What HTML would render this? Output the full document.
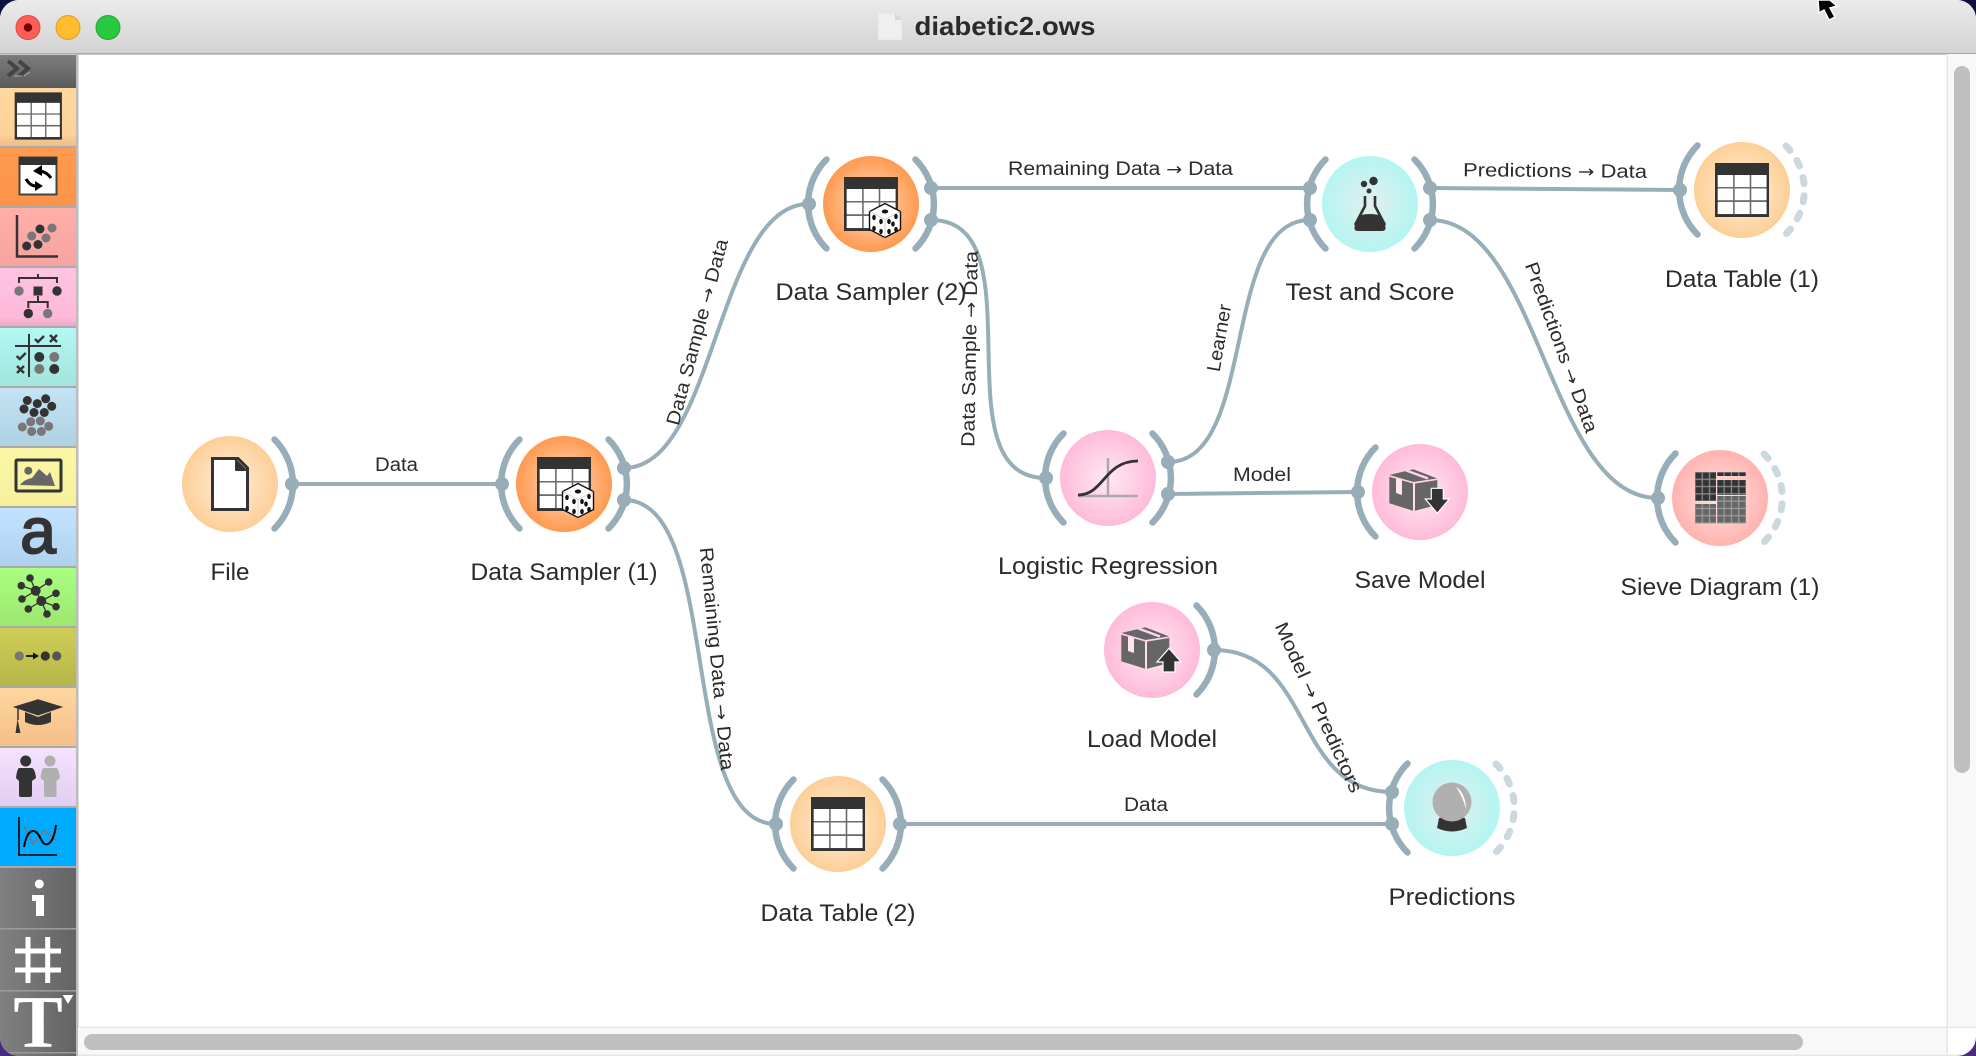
<!DOCTYPE html>
<html><head><meta charset="utf-8"><title>diabetic2.ows</title>
<style>
html,body{margin:0;padding:0;background:#fff;width:1976px;height:1056px;overflow:hidden}
svg{display:block}
text{font-family:"Liberation Sans",sans-serif;fill:#2b2b2b}
.cap{font-size:24px;text-anchor:middle}
.lnk{font-size:19px;text-anchor:middle}
.ar{font-family:"DejaVu Sans",sans-serif;font-size:17px}
.l{fill:none;stroke:#97aeb8;stroke-width:4}
.arc{fill:none;stroke:#97aeb8;stroke-width:6.5;stroke-linecap:round}
.port{fill:#97aeb8}
.dash{fill:none;stroke:#cdd8de;stroke-width:7;stroke-linecap:round;stroke-dasharray:6 12.2}
</style></head><body>
<svg width="1976" height="1056" viewBox="0 0 1976 1056" xmlns="http://www.w3.org/2000/svg">
<defs>
<linearGradient id="tb" x1="0" y1="0" x2="0" y2="1"><stop offset="0" stop-color="#ebebeb"/><stop offset="1" stop-color="#d3d3d3"/></linearGradient>
<linearGradient id="hd" x1="0" y1="0" x2="0" y2="1"><stop offset="0" stop-color="#7c7c7c"/><stop offset="1" stop-color="#5c5c5c"/></linearGradient>
<linearGradient id="gr" x1="0" y1="0" x2="1" y2="0"><stop offset="0" stop-color="#808080"/><stop offset="1" stop-color="#646464"/></linearGradient>
<linearGradient id="s1" x1="0" y1="0" x2="0" y2="1"><stop offset="0" stop-color="#ffd89e"/><stop offset=".8" stop-color="#fdd298"/><stop offset="1" stop-color="#efbd8a"/></linearGradient>
<linearGradient id="s2" x1="0" y1="0" x2="0" y2="1"><stop offset="0" stop-color="#ff9a4e"/><stop offset="1" stop-color="#fb9448"/></linearGradient>
<linearGradient id="s3" x1="0" y1="0" x2="0" y2="1"><stop offset="0" stop-color="#ffaeaa"/><stop offset="1" stop-color="#f7a4a0"/></linearGradient>
<linearGradient id="s4" x1="0" y1="0" x2="0" y2="1"><stop offset="0" stop-color="#ffc3e2"/><stop offset=".85" stop-color="#ffb9d9"/><stop offset="1" stop-color="#eaa8c8"/></linearGradient>
<linearGradient id="s5" x1="0" y1="0" x2="0" y2="1"><stop offset="0" stop-color="#b4f8f3"/><stop offset="1" stop-color="#a2e4de"/></linearGradient>
<linearGradient id="s6" x1="0" y1="0" x2="0" y2="1"><stop offset="0" stop-color="#c4e3f5"/><stop offset="1" stop-color="#aed2e2"/></linearGradient>
<linearGradient id="s7" x1="0" y1="0" x2="0" y2="1"><stop offset="0" stop-color="#fbf7a6"/><stop offset="1" stop-color="#f5f09c"/></linearGradient>
<linearGradient id="s8" x1="0" y1="0" x2="0" y2="1"><stop offset="0" stop-color="#c4e2ff"/><stop offset="1" stop-color="#aed2ef"/></linearGradient>
<linearGradient id="s9" x1="0" y1="0" x2="0" y2="1"><stop offset="0" stop-color="#a8ff80"/><stop offset="1" stop-color="#9ee670"/></linearGradient>
<linearGradient id="s10" x1="0" y1="0" x2="0" y2="1"><stop offset="0" stop-color="#cece55"/><stop offset="1" stop-color="#b6b64a"/></linearGradient>
<linearGradient id="s11" x1="0" y1="0" x2="0" y2="1"><stop offset="0" stop-color="#ffd6a0"/><stop offset="1" stop-color="#f5bf88"/></linearGradient>
<linearGradient id="s12" x1="0" y1="0" x2="0" y2="1"><stop offset="0" stop-color="#f4e2ff"/><stop offset="1" stop-color="#e2cef0"/></linearGradient>
<radialGradient id="nData"><stop offset="0" stop-color="#ffeedd"/><stop offset="1" stop-color="#fdcf97"/></radialGradient>
<radialGradient id="nTrans"><stop offset="0" stop-color="#ffdcc0"/><stop offset="1" stop-color="#ff9a50"/></radialGradient>
<radialGradient id="nModel"><stop offset="0" stop-color="#ffe9f3"/><stop offset="1" stop-color="#ffbbd9"/></radialGradient>
<radialGradient id="nEval"><stop offset="0" stop-color="#e2efee"/><stop offset="1" stop-color="#b4f5f1"/></radialGradient>
<radialGradient id="nVis"><stop offset="0" stop-color="#ffe6e6"/><stop offset="1" stop-color="#ffb2ae"/></radialGradient>
<pattern id="pDark" x="1695" y="472" width="7.3" height="7.3" patternUnits="userSpaceOnUse"><rect width="7.3" height="7.3" fill="#8a8a8a"/><rect x=".6" y=".6" width="6" height="6" fill="#333"/></pattern>
<pattern id="pGray" x="1695" y="472" width="7.3" height="7.3" patternUnits="userSpaceOnUse"><rect width="7.3" height="7.3" fill="#999"/><rect x=".6" y=".6" width="6" height="6" fill="#666"/></pattern>
<g id="table">
<rect x="-27" y="-27" width="54" height="54" fill="#333"/>
<rect x="-24.3" y="-15" width="48.8" height="39.2" fill="#6f6a68"/>
<rect x="-24.3" y="-15" width="15.4" height="12" fill="#fff"/><rect x="-7.3" y="-15" width="15" height="12" fill="#fff"/><rect x="9.3" y="-15" width="15.3" height="12" fill="#fff"/>
<rect x="-24.3" y="-1.5" width="15.4" height="11.7" fill="#fff"/><rect x="-7.3" y="-1.5" width="15" height="11.7" fill="#fff"/><rect x="9.3" y="-1.5" width="15.3" height="11.7" fill="#fff"/>
<rect x="-24.3" y="12" width="15.4" height="12" fill="#fff"/><rect x="-7.3" y="12" width="15" height="12" fill="#fff"/><rect x="9.3" y="12" width="15.3" height="12" fill="#fff"/>
</g>
<g id="dice">
<polygon points="0,-17 15.5,-9 15.5,9 0,17 -15.5,9 -15.5,-9" fill="#fff" stroke="#111" stroke-width="1.4"/>
<path d="M-15.5,-9 L0,-1 L15.5,-9 M0,-1 L0,17" fill="none" stroke="#bbb" stroke-width=".7"/>
<g fill="#111"><ellipse cx="0" cy="-9" rx="3.2" ry="2"/><ellipse cx="-11" cy="-3" rx="1.8" ry="2.6"/><ellipse cx="-4" cy="1" rx="1.8" ry="2.6"/><ellipse cx="-11" cy="8" rx="1.8" ry="2.6"/><ellipse cx="-4" cy="11" rx="1.8" ry="2.6"/><ellipse cx="11" cy="-4" rx="1.8" ry="2.6"/><ellipse cx="4" cy="1" rx="1.8" ry="2.6"/><ellipse cx="8" cy="3.500" rx="1.8" ry="2.6"/><ellipse cx="11" cy="9" rx="1.8" ry="2.6"/><ellipse cx="4" cy="11" rx="1.8" ry="2.6"/></g>
</g>
<g id="box">
<polygon points="-30.7,-16 -7,-9 -7,18.7 -30.7,11.3" fill="#666"/>
<polygon points="-30.7,-17 -6.7,-22.7 17.3,-13.5 -6.7,-10" fill="#666"/>
<polygon points="-5,-8.7 17.3,-12.7 17.3,13 -5,18.7" fill="#666"/>
<path d="M-15,-22 L8,-13.500" stroke="#ffd4e6" stroke-width="2.500" fill="none"/>
<path d="M-30.700,-16 L-6,-9 L17.300,-12.700" stroke="#ffd4e6" stroke-width="1.500" fill="none"/>
<polygon points="-24,-13.500 -18,-12 -18,3 -24,1" fill="#ffe3ef"/>
</g>
<path id="arcR" class="arc" d="M44.5,-44.5 A63 63 0 0 1 44.5,44.5"/>
<path id="arcL" class="arc" d="M-44.5,-44.5 A63 63 0 0 0 -44.5,44.5"/>
<path id="arcD" class="dash" d="M44,-44 A62 62 0 0 1 44,44"/>
</defs>

<rect width="1976" height="528" fill="#10103f"/>
<rect y="528" width="1976" height="528" fill="#4a2a7a"/>
<clipPath id="win"><rect width="1976" height="1056" rx="19" ry="19"/></clipPath>
<g clip-path="url(#win)">
<rect width="1976" height="1056" fill="#fff"/>
<!-- title -->
<rect width="1976" height="53" fill="url(#tb)"/>
<rect y="53" width="1976" height="1.6" fill="#a9a9a9"/>
<circle cx="28" cy="27.5" r="12" fill="#ff5f57" stroke="#e0443e"/><circle cx="28" cy="27.5" r="4.2" fill="#7a0000"/>
<circle cx="68" cy="27.5" r="12" fill="#febc2e" stroke="#dfa023"/>
<circle cx="108" cy="27.5" r="12" fill="#28c840" stroke="#1fa82f"/>
<path d="M878,13 H895 L902,20 V39 Q902,40 901,40 H879 Q878,40 878,39 Z" fill="#efefef" stroke="#e2e2e2" stroke-width=".7"/>
<path d="M895,13 V20 H902 Z" fill="#d9d9d9"/>
<text x="1005" y="35" font-size="26" font-weight="700" text-anchor="middle" textLength="181" lengthAdjust="spacingAndGlyphs" style="fill:#2a2a2a">diabetic2.ows</text>
<path d="M1818,0 L1819,13 L1824,10 L1829,20 L1835,17 L1830,8 L1837,6 L1830,0 Z" fill="#000" stroke="#fff" stroke-width="1.5"/>

<!-- sidebar -->
<rect x="76" y="54" width="2.5" height="1002" fill="#bdbdbd"/>
<rect x="0" y="55" width="76" height="33" fill="url(#hd)"/>
<path d="M8,61 L17,68.500 L8,76 M19,61 L28,68.500 L19,76" fill="none" stroke="#444" stroke-width="4"/>
<path d="M14,76 L22,76 M24,76 L30,72" fill="none" stroke="#aaa" stroke-width="1"/>
<rect y="88" width="76" height="58" fill="url(#s1)"/><rect y="146" width="76" height="2" fill="#aaa"/>
<rect y="148" width="76" height="58" fill="url(#s2)"/><rect y="206" width="76" height="2" fill="#aaa"/>
<rect y="208" width="76" height="58" fill="url(#s3)"/><rect y="266" width="76" height="2" fill="#aaa"/>
<rect y="268" width="76" height="58" fill="url(#s4)"/><rect y="326" width="76" height="2" fill="#aaa"/>
<rect y="328" width="76" height="58" fill="url(#s5)"/><rect y="386" width="76" height="2" fill="#aaa"/>
<rect y="388" width="76" height="58" fill="url(#s6)"/><rect y="446" width="76" height="2" fill="#aaa"/>
<rect y="448" width="76" height="58" fill="url(#s7)"/><rect y="506" width="76" height="2" fill="#aaa"/>
<rect y="508" width="76" height="58" fill="url(#s8)"/><rect y="566" width="76" height="2" fill="#aaa"/>
<rect y="568" width="76" height="58" fill="url(#s9)"/><rect y="626" width="76" height="2" fill="#aaa"/>
<rect y="628" width="76" height="58" fill="url(#s10)"/><rect y="686" width="76" height="2" fill="#aaa"/>
<rect y="688" width="76" height="58" fill="url(#s11)"/><rect y="746" width="76" height="2" fill="#aaa"/>
<rect y="748" width="76" height="58" fill="url(#s12)"/><rect y="806" width="76" height="2" fill="#aaa"/>
<rect y="808" width="76" height="58" fill="#00aaff"/><rect y="866" width="76" height="2" fill="#aaa"/>
<rect y="868" width="76" height="188" fill="url(#gr)"/>
<rect y="928" width="76" height="1.6" fill="#9a9a9a"/><rect y="990" width="76" height="1.6" fill="#9a9a9a"/><rect y="1052" width="76" height="1.5" fill="#9a9a9a"/>

<use href="#table" transform="translate(38.3,116) scale(.875)"/>
<!-- transform -->
<rect x="19.5" y="157.5" width="37" height="37" fill="#fff" stroke="#444" stroke-width="2"/><rect x="19" y="157" width="38" height="8" fill="#333"/>
<path d="M51,178 Q47,172 40,171" fill="none" stroke="#000" stroke-width="3"/><polygon points="42,165 33,171 42,176" fill="#000"/>
<path d="M26,179 Q30,186 36,186" fill="none" stroke="#000" stroke-width="3"/><polygon points="35,181 43,186 35,191" fill="#000"/>
<!-- scatter -->
<path d="M17,215 V256.5 H58" fill="none" stroke="#333" stroke-width="2.5"/>
<g fill="#333"><circle cx="40" cy="229" r="4.5"/><circle cx="26.7" cy="246" r="4.5"/><circle cx="38" cy="244.5" r="4.5"/></g>
<g fill="#777"><circle cx="52" cy="228" r="4.5"/><circle cx="31.7" cy="236" r="4.5"/><circle cx="46" cy="238" r="4.5"/></g>
<!-- tree -->
<path d="M38,274 V278 M19,283 V278 H57 V283 M38,296 V302 M28.3,308 V302 H47.7 V308" fill="none" stroke="#333" stroke-width="2"/>
<rect x="33.5" y="286.5" width="9" height="9" fill="#333"/>
<circle cx="19" cy="291" r="4.7" fill="#777"/><circle cx="57" cy="291" r="4.7" fill="#333"/><circle cx="28.3" cy="313.5" r="4.7" fill="#333"/><circle cx="47.7" cy="313.5" r="4.7" fill="#777"/>
<!-- evaluate -->
<path d="M29,334 V377 M15,346 H61" stroke="#333" stroke-width="2" fill="none"/>
<path d="M35,339 L38,342 L44,336 M16.700,356 L19.700,359 L25.700,353 M50,335 L57,342 M57,335 L50,342 M17,366 L24,373 M24,366 L17,373" stroke="#333" stroke-width="2.4" fill="none"/>
<circle cx="39.300" cy="357" r="5" fill="#333"/><circle cx="54.300" cy="357" r="5" fill="#777"/><circle cx="39.300" cy="369" r="5" fill="#777"/><circle cx="54.300" cy="369" r="5" fill="#333"/>
<!-- unsupervised -->
<g fill="#333"><circle cx="27.300" cy="400.500" r="4.500"/><circle cx="45.700" cy="398.800" r="4.500"/><circle cx="37.300" cy="403.600" r="4.500"/><circle cx="51.700" cy="406.300" r="4.500"/><circle cx="24" cy="409" r="4.500"/><circle cx="44.300" cy="412.500" r="4.500"/><circle cx="34" cy="412.500" r="4.500"/></g>
<g fill="#777"><circle cx="30.700" cy="421.800" r="4.500"/><circle cx="40.300" cy="421" r="4.500"/><circle cx="22.300" cy="427" r="4.500"/><circle cx="48.700" cy="426.300" r="4.500"/><circle cx="31.700" cy="431.500" r="4.500"/><circle cx="41.300" cy="431.500" r="4.500"/></g>
<!-- image -->
<rect x="16" y="460" width="45" height="31" fill="none" stroke="#333" stroke-width="3" rx="1"/>
<circle cx="28.300" cy="470.700" r="4" fill="#666"/>
<path d="M20,485 Q25,479 32,478 L39,469 L47,476 L50,472 L55,486 Z" fill="#666"/>
<!-- text -->
<text x="38" y="553" font-size="64" text-anchor="middle" style="fill:#333;stroke:#333;stroke-width:2">a</text>
<!-- network -->
<path d="M35.700,590.700 L30,578 M35.700,590.700 L48.700,582 M35.700,590.700 L21.300,585.700 M35.700,590.700 L41.300,601 M35.700,590.700 L22,599 M41.300,601 L56,593.300 M41.300,601 L56,606.700 M41.300,601 L28.300,609 M41.300,601 L47,614" stroke="#333" stroke-width="1.300"/>
<g fill="#333"><circle cx="35.700" cy="590.700" r="5"/><circle cx="41.300" cy="601" r="5"/><circle cx="30" cy="578" r="3.800"/><circle cx="48.700" cy="582" r="3.800"/><circle cx="21.300" cy="585.700" r="3.800"/><circle cx="56" cy="593.300" r="3.800"/><circle cx="22" cy="599" r="3.800"/><circle cx="56" cy="606.700" r="3.800"/><circle cx="28.300" cy="609" r="3.800"/><circle cx="47" cy="614" r="3.800"/></g>
<!-- time -->
<circle cx="19.300" cy="656" r="4.600" fill="#777"/><circle cx="45.300" cy="656" r="4.600" fill="#333"/><circle cx="56.700" cy="656" r="4.600" fill="#555"/>
<path d="M26,656 H34" stroke="#111" stroke-width="1.800"/><polygon points="33,652.500 39,656 33,659.500" fill="#111"/>
<!-- education -->
<path d="M25,712 V722 Q38,728 51,722 V712 L38,717 Z" fill="#333"/>
<polygon points="38,699.300 63.300,707 38,715.500 12.700,707" fill="#333"/>
<path d="M18,708 V720" stroke="#333" stroke-width="1.500"/><path d="M17.500,719 L20.500,733 H15.500 Z" fill="#333"/>
<!-- people -->
<circle cx="25.700" cy="761" r="5.500" fill="#333"/><path d="M19,768 H32 Q35,769 36,778 L32,781 V795 Q32,797 30,797 H21 Q19,797 19,795 V781 L16,778 Q17,769 19,768 Z" fill="#333"/>
<circle cx="50" cy="761" r="5.500" fill="#b0b0b0"/><path d="M43.500,768 H56.500 Q59,769 60,778 L56.500,781 V795 Q56.500,797 55,797 H46 Q44,797 44,795 V781 L40.500,778 Q41.500,769 43.500,768 Z" fill="#b0b0b0"/>
<!-- chart -->
<path d="M19,817 V855 H57" fill="none" stroke="#111" stroke-width="1.800"/>
<path d="M24,826 L33,844 L44,830 L56,840" fill="none" stroke="#777" stroke-width="1.500"/>
<path d="M24,847 Q27,830 34,831 C41,833 41,847 48,844 Q54,841 56,825" fill="none" stroke="#000" stroke-width="2"/>
<!-- i # T -->
<circle cx="39.300" cy="884" r="4.500" fill="#fff"/><polygon points="32,895 44,895 44,916 36,916 36,901 32,901" fill="#fff"/>
<path d="M28,937 V983 M47.700,937 V983 M15,951 H61 M15,970 H61" stroke="#fff" stroke-width="5" fill="none"/>
<text x="38" y="1047" font-size="74" font-weight="700" text-anchor="middle" style="font-family:'Liberation Serif',serif;fill:#fff">T</text>
<polygon points="62.700,995 73.300,995 68,1004" fill="#fff"/>

<!-- scrollbars -->
<rect x="1947" y="54" width="29" height="973" fill="#f8f8f8"/><rect x="1946.500" y="54" width="1.500" height="973" fill="#e6e6e6"/>
<rect x="1954" y="66" width="16" height="707" rx="8" fill="#bfbfbf"/>
<rect x="78" y="1027" width="1869" height="29" fill="#f8f8f8"/><rect x="78" y="1026.500" width="1898" height="1.500" fill="#e6e6e6"/>
<rect x="84" y="1034" width="1719" height="16" rx="8" fill="#bfbfbf"/>
<rect x="1946.500" y="1027" width="1.500" height="29" fill="#e6e6e6"/>
<rect x="78" y="1054.500" width="1898" height="1.500" fill="#e6e6e6"/>

<!-- links -->
<path class="l" d="M292,484 H502"/>
<path class="l" d="M624,468 C716,468 716,204 809,204"/>
<path class="l" d="M624,500 C724,500 676,824 776,824"/>
<path class="l" d="M931,188 H1310"/>
<path class="l" d="M931,220 C1041,220 936,478 1046,478"/>
<path class="l" d="M1168,462 C1258,462 1220,220 1310,220"/>
<path class="l" d="M1168,494 L1358,492"/>
<path class="l" d="M1430,188 L1680,190"/>
<path class="l" d="M1430,220 C1540,220 1548,498 1658,498"/>
<path class="l" d="M1214,650 C1314,650 1292,792 1392,792"/>
<path class="l" d="M900,824 H1392"/>

<!-- link labels -->
<text class="lnk" x="396.500" y="471" textLength="43" lengthAdjust="spacingAndGlyphs">Data</text>
<text class="lnk" x="1120.500" y="175" textLength="225" lengthAdjust="spacingAndGlyphs">Remaining Data <tspan class="ar">→</tspan> Data</text>
<text class="lnk" transform="translate(1555,177) rotate(.5)" textLength="184" lengthAdjust="spacingAndGlyphs">Predictions <tspan class="ar">→</tspan> Data</text>
<text class="lnk" x="1262" y="481" textLength="58" lengthAdjust="spacingAndGlyphs">Model</text>
<text class="lnk" x="1146" y="811" textLength="44" lengthAdjust="spacingAndGlyphs">Data</text>
<text class="lnk" transform="translate(703.300,333.700) rotate(-75)" textLength="192" lengthAdjust="spacingAndGlyphs">Data Sample <tspan class="ar">→</tspan> Data</text>
<text class="lnk" transform="translate(710.500,659.400) rotate(84.500)" textLength="224" lengthAdjust="spacingAndGlyphs">Remaining Data <tspan class="ar">→</tspan> Data</text>
<text class="lnk" transform="translate(976,349) rotate(-89)" textLength="196" lengthAdjust="spacingAndGlyphs">Data Sample <tspan class="ar">→</tspan> Data</text>
<text class="lnk" transform="translate(1225.400,339) rotate(-80)" textLength="68" lengthAdjust="spacingAndGlyphs">Learner</text>
<text class="lnk" transform="translate(1555.400,349.400) rotate(70)" textLength="180" lengthAdjust="spacingAndGlyphs">Predictions <tspan class="ar">→</tspan> Data</text>
<text class="lnk" transform="translate(1312.900,710) rotate(65.500)" textLength="185" lengthAdjust="spacingAndGlyphs">Model <tspan class="ar">→</tspan> Predictors</text>

<!-- nodes -->
<g transform="translate(230,484)">
<circle r="48" fill="url(#nData)"/><use href="#arcR"/><circle class="port" cx="62" r="7"/>
<path d="M-17.500,-25.500 H8 L17.500,-16 V25.500 H-17.500 Z" fill="#fff" stroke="#333" stroke-width="3"/>
<path d="M5,-26 V-14 Q5,-13 6,-13 H18 Z" fill="#333"/>
</g>
<g transform="translate(564,484)">
<circle r="48" fill="url(#nTrans)"/><use href="#arcL"/><use href="#arcR"/>
<circle class="port" cx="-62" r="7"/><circle class="port" cx="60" cy="-16" r="7"/><circle class="port" cx="60" cy="16" r="7"/>
<use href="#table"/><use href="#dice" transform="translate(14,16.500)"/>
</g>
<g transform="translate(871,204)">
<circle r="48" fill="url(#nTrans)"/><use href="#arcL"/><use href="#arcR"/>
<circle class="port" cx="-62" r="7"/><circle class="port" cx="60" cy="-16" r="7"/><circle class="port" cx="60" cy="16" r="7"/>
<use href="#table"/><use href="#dice" transform="translate(14,16.500)"/>
</g>
<g transform="translate(1370,204)">
<circle r="48" fill="url(#nEval)"/><use href="#arcL"/><use href="#arcR"/>
<circle class="port" cx="-60" cy="-16" r="7"/><circle class="port" cx="-60" cy="16" r="7"/><circle class="port" cx="60" cy="-16" r="7"/><circle class="port" cx="60" cy="16" r="7"/>
<circle cx="-6" cy="-20" r="3.200" fill="#333"/><circle cx="3.500" cy="-23" r="4.200" fill="#333"/><circle cx="-1" cy="-13" r="2.500" fill="#333"/>
<path d="M-5,-8 V2 L-15,21 M5,-8 V2 L15,21" fill="none" stroke="#333" stroke-width="2.600"/>
<path d="M-9,11 Q0,9 9,11 L15,21 Q17,27 12,27 H-12 Q-17,27 -15,21 Z" fill="#333"/>
</g>
<g transform="translate(1108,478)">
<circle r="48" fill="url(#nModel)"/><use href="#arcL"/><use href="#arcR"/>
<circle class="port" cx="-62" r="7"/><circle class="port" cx="60" cy="-16" r="7"/><circle class="port" cx="60" cy="16" r="7"/>
<path d="M0,-20 V18 M-30,18 H30" stroke="#aaa" stroke-width="2.500" fill="none"/>
<path d="M-30,17 C-4,17 -4,-17 30,-17" stroke="#333" stroke-width="2.800" fill="none"/>
</g>
<g transform="translate(1420,492)">
<circle r="48" fill="url(#nModel)"/><use href="#arcL"/><circle class="port" cx="-62" r="7"/>
<use href="#box"/>
<polygon points="11.300,-3.700 23.300,-3.700 23.300,7 29.300,7 17.300,21.300 5.300,7 11.300,7" fill="#333" stroke="#fff" stroke-width="1.200"/>
</g>
<g transform="translate(1152,650)">
<circle r="48" fill="url(#nModel)"/><use href="#arcR"/><circle class="port" cx="62" r="7"/>
<use href="#box"/>
<polygon points="17,-1.700 29,12 23,12 23,22 11,22 11,12 5,12" fill="#333" stroke="#fff" stroke-width="1.200"/>
</g>
<g transform="translate(1742,190)">
<circle r="48" fill="url(#nData)"/><use href="#arcL"/><use href="#arcD"/><circle class="port" cx="-62" r="7"/><use href="#table"/>
</g>
<g transform="translate(1720,498)">
<circle r="48" fill="url(#nVis)"/><use href="#arcL"/><use href="#arcD"/><circle class="port" cx="-62" r="7"/>
</g>
<rect x="1695" y="472" width="21" height="29" fill="url(#pDark)"/>
<rect x="1695" y="504" width="21" height="19.500" fill="url(#pGray)"/>
<rect x="1717" y="472" width="29" height="4" fill="url(#pDark)"/>
<rect x="1717" y="480" width="29" height="15" fill="url(#pDark)"/>
<rect x="1717" y="496" width="29" height="27.500" fill="url(#pGray)"/>
<g transform="translate(838,824)">
<circle r="48" fill="url(#nData)"/><use href="#arcL"/><use href="#arcR"/><circle class="port" cx="-62" r="7"/><circle class="port" cx="62" r="7"/><use href="#table"/>
</g>
<g transform="translate(1452,808)">
<circle r="48" fill="url(#nEval)"/><use href="#arcL"/><use href="#arcD"/>
<circle class="port" cx="-60" cy="-16" r="7"/><circle class="port" cx="-60" cy="16" r="7"/>
<path d="M-13,10 Q0,7 13,10 L15,20 Q0,27 -15,20 Z" fill="#333"/>
<circle cx="0" cy="-6" r="19.500" fill="#b0b0b0"/>
<path d="M4,-21 Q13,-16 14.500,2 Q10,-13 4,-21 Z" fill="#fff"/>
</g>

<!-- captions -->
<text class="cap" x="230" y="580" textLength="39" lengthAdjust="spacingAndGlyphs">File</text>
<text class="cap" x="564" y="580" textLength="187" lengthAdjust="spacingAndGlyphs">Data Sampler (1)</text>
<text class="cap" x="871" y="300" textLength="191" lengthAdjust="spacingAndGlyphs">Data Sampler (2)</text>
<text class="cap" x="1370" y="300" textLength="169" lengthAdjust="spacingAndGlyphs">Test and Score</text>
<text class="cap" x="1742" y="287" textLength="154" lengthAdjust="spacingAndGlyphs">Data Table (1)</text>
<text class="cap" x="1720" y="595" textLength="199" lengthAdjust="spacingAndGlyphs">Sieve Diagram (1)</text>
<text class="cap" x="1108" y="574" textLength="220" lengthAdjust="spacingAndGlyphs">Logistic Regression</text>
<text class="cap" x="1420" y="588" textLength="131" lengthAdjust="spacingAndGlyphs">Save Model</text>
<text class="cap" x="1152" y="747" textLength="130" lengthAdjust="spacingAndGlyphs">Load Model</text>
<text class="cap" x="1452" y="905" textLength="127" lengthAdjust="spacingAndGlyphs">Predictions</text>
<text class="cap" x="838" y="921" textLength="155" lengthAdjust="spacingAndGlyphs">Data Table (2)</text>
</g>
</svg>
</body></html>
